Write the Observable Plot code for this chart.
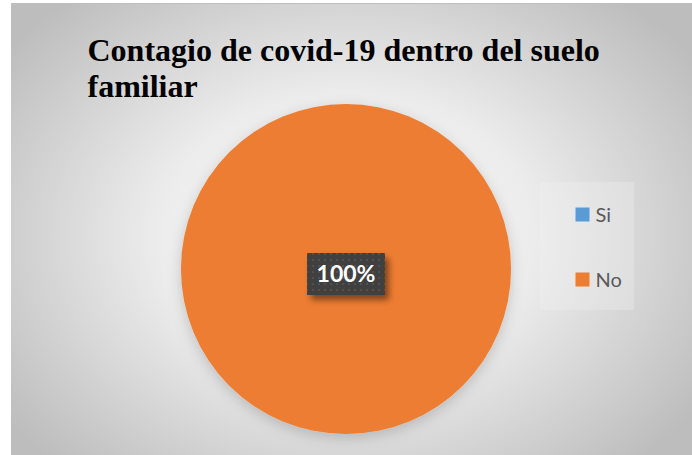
<!DOCTYPE html>
<html>
<head>
<meta charset="utf-8">
<script src="https://cdn.jsdelivr.net/npm/d3@7"></script>
<script src="https://cdn.jsdelivr.net/npm/@observablehq/plot@0.6"></script>
<style>
  html, body { margin: 0; padding: 0; background: #ffffff; }
  svg { display: block; }
</style>
</head>
<body>
<div id="chart"></div>
<script>
// ---- data ----
const categories = ["Si", "No"];
const values = [0, 100];
const colors = ["#5B9BD5", "#ED7D31"];
const titleLines = ["Contagio de covid-19 dentro del suelo", "familiar"];

const data = categories.map((c, i) => ({category: c, value: values[i]}));
const total = d3.sum(values);

// ---- layout ----
const W = 692, H = 455;
const area = {x: 11, y: 4};
const pieCenter = {x: 346, y: 269};
const pieR = 165;

function backgroundMark(index, scales, vals, dims) {
  const g = d3.create("svg:g");
  const defs = g.append("defs");
  const rg = defs.append("radialGradient").attr("id", "bg")
    .attr("gradientUnits", "userSpaceOnUse")
    .attr("cx", 346).attr("cy", 235).attr("r", 420)
    .attr("gradientTransform", "translate(346,235) scale(1,0.75) translate(-346,-235)");
  rg.append("stop").attr("offset", "0%").attr("stop-color", "#ffffff");
  rg.append("stop").attr("offset", "45%").attr("stop-color", "#ececec");
  rg.append("stop").attr("offset", "100%").attr("stop-color", "#bdbdbd");
  g.append("rect").attr("x", area.x).attr("y", area.y)
    .attr("width", W - area.x).attr("height", H - area.y)
    .attr("fill", "url(#bg)");
  g.append("line").attr("x1", area.x).attr("x2", W).attr("y1", area.y - 0.5).attr("y2", area.y - 0.5)
    .attr("stroke", "#bfbfbf").attr("stroke-width", 1);
  // legend panel slightly lighter
  g.append("rect").attr("x", 540).attr("y", 182).attr("width", 94).attr("height", 128)
    .attr("fill", "#f2f2f2").attr("opacity", 0.3);
  return g.node();
}

function pieMark(index, scales, vals, dims) {
  const g = d3.create("svg:g");
  const defs = g.append("defs");
  const f = defs.append("filter").attr("id", "pieShadow")
    .attr("x", "-20%").attr("y", "-20%").attr("width", "140%").attr("height", "140%");
  f.append("feDropShadow").attr("dx", 0).attr("dy", 4).attr("stdDeviation", 7)
    .attr("flood-color", "#000").attr("flood-opacity", 0.18);
  const f2 = defs.append("filter").attr("id", "lblShadow")
    .attr("x", "-30%").attr("y", "-30%").attr("width", "160%").attr("height", "160%");
  f2.append("feDropShadow").attr("dx", 4).attr("dy", 5).attr("stdDeviation", 3)
    .attr("flood-color", "#000").attr("flood-opacity", 0.45);
  const pat = defs.append("pattern").attr("id", "dots")
    .attr("patternUnits", "userSpaceOnUse").attr("width", 6).attr("height", 6);
  pat.append("rect").attr("width", 6).attr("height", 6).attr("fill", "#404040");
  pat.append("circle").attr("cx", 3).attr("cy", 3).attr("r", 1).attr("fill", "#565656");

  const arcs = d3.pie().sort(null).value(d => d.value)(data);
  const arc = d3.arc().innerRadius(0).outerRadius(pieR);
  const pg = g.append("g")
    .attr("transform", `translate(${pieCenter.x},${pieCenter.y})`)
    .attr("filter", "url(#pieShadow)");
  pg.selectAll("path").data(arcs).join("path")
    .attr("d", arc)
    .attr("fill", d => scales.color(d.data.category));

  // data labels (only non-zero slices)
  const lg = g.append("g").attr("transform", `translate(${pieCenter.x},${pieCenter.y})`);
  arcs.filter(a => a.data.value > 0).forEach(a => {
    const frac = a.data.value / total;
    let [cx, cy] = frac >= 0.999 ? [0, 5] : d3.arc().innerRadius(pieR * 0.55).outerRadius(pieR * 0.55).centroid(a);
    const txt = Math.round(frac * 100) + "%";
    const bw = 78, bh = 42;
    lg.append("rect").attr("x", cx - bw / 2).attr("y", cy - bh / 2)
      .attr("width", bw).attr("height", bh).attr("fill", "url(#dots)")
      .attr("filter", "url(#lblShadow)");
    lg.append("text").attr("x", cx).attr("y", cy)
      .attr("text-anchor", "middle").attr("dy", "0.36em")
      .attr("fill", "#ffffff").attr("font-family", "Lato, 'Open Sans', sans-serif")
      .attr("font-weight", "bold").attr("font-size", 23)
      .text(txt);
  });
  return g.node();
}

const chart = Plot.plot({
  width: W,
  height: H,
  margin: 0,
  style: {background: "transparent", overflow: "visible"},
  x: {domain: [0, W], range: [0, W], axis: null},
  y: {domain: [0, H], range: [0, H], axis: null},
  color: {domain: categories, range: colors},
  marks: [
    backgroundMark,
    pieMark,
    // legend swatches
    Plot.dot(data, {
      x: () => 582, y: (d, i) => 214 + i * 65,
      symbol: "square", r: 7.9, fill: "category", stroke: null
    }),
    Plot.text(data, {
      x: () => 595, y: (d, i) => 215 + i * 65,
      text: "category", textAnchor: "start", fill: "#595959",
      fontSize: 20, fontFamily: "Lato, 'Open Sans', sans-serif"
    }),
    // title
    Plot.text([titleLines.join("\n")], {
      frameAnchor: "top-left", dx: 87, dy: 35,
      text: d => d, textAnchor: "start", lineAnchor: "top",
      lineHeight: 36 / 32,
      fontSize: 32, fontWeight: "bold", fill: "#000000",
      fontFamily: "'Liberation Serif', 'Times New Roman', serif"
    })
  ]
});
document.getElementById("chart").append(chart);
</script>
</body>
</html>
